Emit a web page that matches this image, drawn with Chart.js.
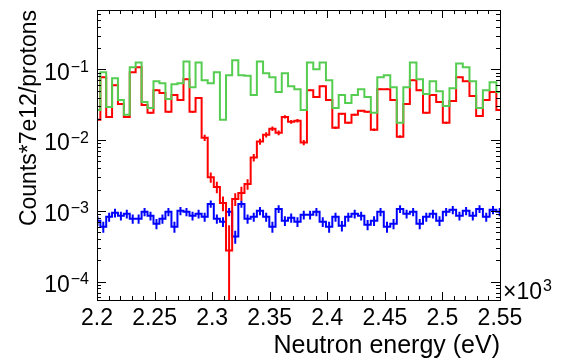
<!DOCTYPE html>
<html>
<head>
<meta charset="utf-8">
<script src="https://cdn.jsdelivr.net/npm/chart.js@4.4.1/dist/chart.umd.min.js"></script>
<style>
body{margin:0;background:#fff}
#wrap{width:570px;height:361px}
</style>
</head>
<body>
<div id="wrap"><canvas id="ChartHTML" width="570" height="361"></canvas></div>
<script>
// log binning: 1000 bins per decade, first edge at 10^3.342 eV
const BinsPerDecade=1000
const FirstEdgeLog=3.342

const Green=[0.0267,0.0908,0.0294,0.0748,0.0368,0.0228,0.107,0.125,0.0345,0.0285,
0.068,0.0637,0.038,0.0617,0.0637,0.129,0.056,0.125,0.0702,0.0637,
0.0908,0.0194,0.0824,0.134,0.0824,0.081,0.0433,0.129,0.0879,0.0773,
0.0477,0.0879,0.0578,0.0525,0.0267,0.125,0.100,0.125,0.0702,0.0285,
0.0433,0.0334,0.0433,0.0525,0.0406,0.0243,0.0773,0.0824,0.056,0.0176,
0.056,0.125,0.0725,0.0447,0.068,0.0492,0.0304,0.0542,0.121,0.107,
0.068,0.0285,0.0508,0.0658,0.0477]

const Red=[0.0194,0.0773,0.0213,0.0597,0.0324,0.0213,0.0908,0.107,0.0314,0.0243,
0.0508,0.0462,0.0251,0.0433,0.0368,0.0725,0.0251,0.0393,0.0108,0.00299,
0.00217,0.00129,0.000276,0.00147,0.00179,0.00239,0.00569,0.00953,0.0119,0.0145,
0.0127,0.0213,0.0182,0.0188,0.00923,0.0508,0.0406,0.0578,0.0368,0.015,
0.0235,0.0176,0.0228,0.0259,0.0251,0.014,0.0525,0.0525,0.0368,0.0112,
0.0324,0.0702,0.0508,0.0243,0.0433,0.0345,0.0176,0.0357,0.0773,0.068,
0.0419,0.022,0.0368,0.0477,0.0267]

const RedErr=[0.0006,0.0012,0.0006,0.0011,0.0008,0.0006,0.0013,0.0014,0.0008,0.0007,
0.001,0.001,0.0007,0.0009,0.0009,0.0012,0.0007,0.0009,0.0011,0.0005,
0.0004,0.0003,0.00035,0.0003,0.0004,0.0004,0.0007,0.0009,0.001,0.0011,
0.001,0.0011,0.0011,0.0011,0.0008,0.001,0.0009,0.0011,0.0009,0.0006,
0.0007,0.0006,0.0007,0.0007,0.0007,0.0006,0.001,0.001,0.0009,0.0005,
0.0008,0.0012,0.001,0.0007,0.0009,0.0008,0.0006,0.0008,0.0012,0.0012,
0.0009,0.0007,0.0009,0.001,0.0007]

const Blue=[0.000725,0.000597,0.000824,0.000938,0.000851,0.000908,0.000773,0.000773,0.000968,0.000851,
0.000658,0.000773,0.000968,0.000597,0.001,0.000968,0.000851,0.000908,0.000824,0.001253,
0.000773,0.000702,0.000968,0.000433,0.001253,0.000773,0.000824,0.001,0.000824,0.000597,
0.001066,0.000725,0.000798,0.000702,0.000879,0.000879,0.000968,0.000702,0.000597,0.000824,
0.000617,0.000824,0.000908,0.000851,0.000637,0.000725,0.000968,0.000597,0.000658,0.001066,
0.000908,0.000968,0.000658,0.000824,0.000908,0.000725,0.000968,0.001033,0.000851,0.001,
0.000851,0.001066,0.000824,0.001033,0.000968]

const BlueErr=[0.000115,0.000105,0.00012,0.00013,0.00012,0.000125,0.000115,0.000115,0.00013,0.00012,
0.00011,0.000115,0.00013,0.000105,0.00013,0.00013,0.00012,0.000125,0.00012,0.000145,
0.000115,0.00011,0.00013,0.00009,0.000145,0.000115,0.00012,0.00013,0.00012,0.000105,
0.000135,0.000115,0.00012,0.00011,0.000125,0.000125,0.00013,0.00011,0.000105,0.00012,
0.000105,0.00012,0.000125,0.00012,0.000105,0.000115,0.00013,0.000105,0.00011,0.000135,
0.000125,0.00013,0.00011,0.00012,0.000125,0.000115,0.00013,0.000135,0.00012,0.00013,
0.00012,0.000135,0.00012,0.000135,0.00013]

const XTicks=[2200,2250,2300,2350,2400,2450,2500,2550]
const YDecades=[-4,-3,-2,-1]
const XMIN=2200,XMAX=2550,YMIN=5.5e-5,YMAX=0.69
const FONT='"Liberation Sans", Arial, Helvetica, sans-serif'
const GREEN='rgb(85,205,80)',RED='rgb(255,0,0)',BLUE='rgb(0,0,255)'

function Edges(n){let e=[];for(let i=0;i<=n;i++){e.push(Math.pow(10,FirstEdgeLog+i/BinsPerDecade))};return e}
const EDGES=Edges(Green.length)

function StepPoints(vals){
const pts=[{x:XMIN,y:YMIN/10}]
vals.forEach((v,i)=>{pts.push({x:Math.max(EDGES[i],XMIN),y:v})})
pts.push({x:EDGES[vals.length],y:vals[vals.length-1]})
return pts}

function DrawErrors(chart,vals,errs,col){
const ctx=chart.ctx,xs=chart.scales.x,ys=chart.scales.y,a=chart.chartArea
ctx.strokeStyle=col;ctx.lineWidth=2;ctx.beginPath()
vals.forEach((v,i)=>{
const px=xs.getPixelForValue((EDGES[i]+EDGES[i+1])/2)
const lo=v-errs[i]
const y1=lo>0?ys.getPixelForValue(lo):a.bottom
const y2=ys.getPixelForValue(v+errs[i])
ctx.moveTo(px,y1);ctx.lineTo(px,y2)})
ctx.stroke()}

const errorBarsPlugin={id:'errorBars',afterDatasetsDraw(chart){
const ctx=chart.ctx,a=chart.chartArea
ctx.save();ctx.beginPath();ctx.rect(a.left,a.top,a.right-a.left,a.bottom-a.top);ctx.clip()
DrawErrors(chart,Blue,BlueErr,BLUE)
DrawErrors(chart,Red,RedErr,RED)
ctx.restore()}}

const framePlugin={id:'frame',afterDraw(chart){
const ctx=chart.ctx,xs=chart.scales.x,ys=chart.scales.y,a=chart.chartArea
ctx.save()
ctx.strokeStyle='#000';ctx.lineWidth=1
ctx.strokeRect(Math.round(a.left)+.5,Math.round(a.top)+.5,Math.round(a.right-a.left),Math.round(a.bottom-a.top))
ctx.beginPath()
for(let v=XMIN;v<=XMAX;v+=10){
const px=Math.round(xs.getPixelForValue(v))+.5,len=(v%50===0)?8:4
ctx.moveTo(px,a.bottom);ctx.lineTo(px,a.bottom-len)
ctx.moveTo(px,a.top);ctx.lineTo(px,a.top+len)}
for(let d=-5;d<=0;d++){for(let m=1;m<=9;m++){
const v=m*Math.pow(10,d);if(v<YMIN||v>YMAX)continue
const py=Math.round(ys.getPixelForValue(v))+.5,len=(m===1)?9:4
ctx.moveTo(a.left,py);ctx.lineTo(a.left+len,py)
ctx.moveTo(a.right,py);ctx.lineTo(a.right-len,py)}}
ctx.stroke()
// y tick labels 10^n
ctx.fillStyle='#000'
YDecades.forEach(d=>{
const py=ys.getPixelForValue(Math.pow(10,d))
ctx.textAlign='right';ctx.textBaseline='middle'
ctx.font='16px '+FONT
const ex='\u2212'+Math.abs(d)
ctx.fillText(ex,89,py-2)
const w=ctx.measureText(ex).width
ctx.font='23px '+FONT
ctx.fillText('10',89-w-1,py+4)})
// x10^3 multiplier
ctx.textAlign='left';ctx.textBaseline='alphabetic'
ctx.font='23px '+FONT
ctx.fillText('\u00d710',503,299)
const w2=ctx.measureText('\u00d710').width
ctx.font='16px '+FONT
ctx.fillText('3',503+w2+1,291)
ctx.restore()}}

let Chart1
function LoadChart(){
Chart1=new Chart(document.getElementById('ChartHTML'),{
type:'line',
data:{datasets:[
{data:StepPoints(Green),borderColor:GREEN,borderWidth:2,stepped:true,pointRadius:0},
{data:StepPoints(Red),borderColor:RED,borderWidth:2,stepped:true,pointRadius:0},
{data:StepPoints(Blue),borderColor:BLUE,borderWidth:2,stepped:true,pointRadius:0}]},
options:{
responsive:false,animation:false,devicePixelRatio:1,parsing:false,
layout:{padding:{left:0,right:70,top:10,bottom:0}},
plugins:{legend:{display:false},tooltip:{enabled:false}},
scales:{
x:{type:'linear',min:XMIN,max:XMAX,bounds:'data',
grid:{display:false,drawTicks:false},border:{display:false},
afterBuildTicks:s=>{s.ticks=XTicks.map(v=>({value:v}))},
afterFit:s=>{s.height=61},
ticks:{autoSkip:false,maxRotation:0,padding:5,color:'#000',font:{family:FONT,size:23},callback:v=>String(v/1000)},
title:{display:true,text:'Neutron energy (eV)',align:'end',color:'#000',font:{family:FONT,size:25},padding:{top:0,bottom:0}}},
y:{type:'logarithmic',min:YMIN,max:YMAX,bounds:'data',
grid:{display:false,drawTicks:false},border:{display:false},
afterBuildTicks:s=>{s.ticks=YDecades.map(d=>({value:Math.pow(10,d)}))},
afterFit:s=>{s.width=97},
ticks:{display:false},
title:{display:true,text:'Counts*7e12/protons',align:'end',color:'#000',font:{family:FONT,size:23},padding:{top:16,bottom:0}}}}
},
plugins:[errorBarsPlugin,framePlugin]})
}
LoadChart()
</script>
</body>
</html>
